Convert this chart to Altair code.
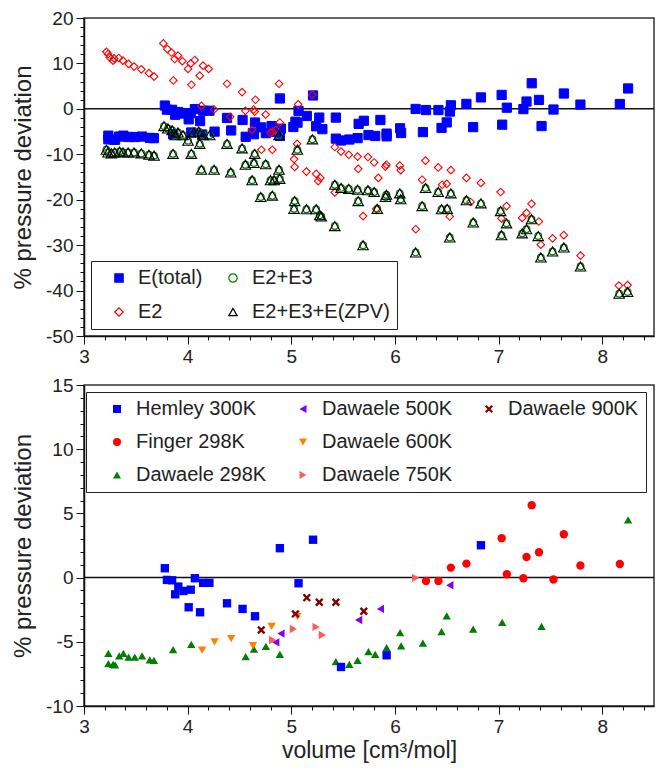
import altair as alt
import pandas as pd

FONT = "Liberation Sans"

# ---------------- experimental data (bottom panel): volume [cm3/mol], % pressure deviation
hemley_v = [3.78, 3.80, 3.85, 3.88, 3.91, 3.96, 4.01, 4.03, 4.07, 4.12, 4.15, 4.21, 4.38,
            4.53, 4.65, 4.89, 5.07, 5.21, 5.48, 5.92, 6.83]
hemley_d = [0.73, -0.18, -0.21, -1.30, -0.70, -1.04, -2.31, -0.94, -0.05, -2.70, -0.41, -0.41, -2.00,
            -2.44, -3.01, 2.29, -0.44, 2.95, -6.96, -6.05, 2.52]

finger_v = [6.30, 6.42, 6.54, 6.69, 7.03, 7.08, 7.24, 7.27, 7.32, 7.39, 7.53, 7.63, 7.79, 8.17]
finger_d = [-0.26, -0.26, 0.78, 1.09, 3.07, 0.26, -0.05, 1.61, 5.64, 1.97, -0.15, 3.38, 0.94, 1.06]

d298_v = [3.235, 3.235, 3.28, 3.30, 3.34, 3.38, 3.43, 3.49, 3.56, 3.635, 3.675, 3.86, 4.035,
          4.56, 4.64, 4.755, 4.89, 5.43, 5.56, 5.64, 5.745, 5.81, 5.92, 6.05, 6.06, 6.27,
          6.45, 6.50, 6.755, 7.035, 7.415, 8.25]
d298_d = [-5.9, -6.7, -6.75, -6.8, -6.1, -5.9, -6.2, -6.2, -6.1, -6.4, -6.45, -5.6, -5.2,
          -6.15, -5.58, -5.35, -5.97, -6.55, -6.75, -6.44, -5.77, -5.97, -5.45, -4.28, -5.32, -5.11,
          -4.2, -2.98, -4.02, -3.48, -3.79, 4.49]

d500_v = [4.85, 4.90, 5.65, 5.86, 6.53]
d500_d = [-5.04, -4.36, -3.30, -2.44, -0.60]

d600_v = [4.14, 4.26, 4.42, 4.63, 4.81, 5.06]
d600_d = [-5.64, -5.01, -4.75, -5.30, -3.79, -3.04]

d750_v = [4.82, 5.02, 5.24, 5.30, 6.20]
d750_d = [-4.86, -4.00, -3.84, -4.47, -0.02]

d900_v = [4.71, 5.04, 5.15, 5.27, 5.43, 5.70]
d900_d = [-4.08, -2.83, -1.56, -1.92, -1.92, -2.62]

# ---------------- theory (top panel)
# E(total): the filled squares sit on every experimental point of the lower panel
etot_v = hemley_v + finger_v + d298_v + d500_v + d600_v + d750_v + d900_v
etot_d = hemley_d + finger_d + d298_d + d500_d + d600_d + d750_d + d900_d

e2_v = [3.216, 3.232, 3.248, 3.28, 3.29, 3.335, 3.376, 3.431, 3.483, 3.553, 3.627, 3.676,
        3.766, 3.804, 3.843, 3.875, 3.907, 3.949, 4.004, 4.03, 4.068, 4.117, 4.149, 4.203,
        3.862, 4.036, 4.133, 4.255, 4.38, 4.525, 4.654, 4.557, 4.637, 4.647, 4.41, 4.753,
        4.882, 4.889, 5.066, 5.204, 4.622, 4.712, 4.817, 4.80, 4.82, 4.85, 5.056, 5.027,
        5.033, 5.146, 5.24, 5.28, 5.26, 5.42, 5.48, 5.555, 5.64, 5.646, 5.74, 5.80,
        5.84, 5.42, 5.693, 5.82, 5.918, 5.908, 6.047, 6.056, 6.295, 6.263, 6.418, 6.54,
        6.456, 6.50, 6.69, 6.83, 7.02, 6.201, 6.529, 6.73, 7.077, 7.028, 7.228, 7.27,
        7.318, 7.389, 7.408, 7.521, 7.63, 7.791, 8.161, 8.245]
e2_d = [12.57, 12.07, 11.34, 10.6, 11.1, 11.2, 10.6, 9.9, 9.3, 8.7, 7.85, 7.1,
        14.4, 13.16, 12.4, 10.98, 11.7, 10.5, 8.8, 10.0, 10.75, 7.3, 9.5, 8.8,
        6.25, 5.3, 0.65, -0.15, 5.52, 3.7, 2.0, -0.43, -0.15, -0.6, -1.75, -1.24,
        5.52, -3.0, 1.0, 3.1, -4.65, -9.0, -9.0, -5.25, -5.0, -4.65, -7.7, -11.06,
        -12.8, -13.8, -14.3, -15.2, -15.9, -8.4, -9.4, -10.1, -10.5, -13.2, -10.6, -11.8,
        -15.2, -18.4, -23.6, -22.0, -12.3, -12.7, -12.5, -13.5, -11.4, -15.6, -12.9, -13.5,
        -16.7, -16.5, -15.2, -16.3, -18.3, -26.5, -23.7, -20.5, -21.4, -24.1, -24.0, -22.9,
        -20.9, -24.8, -29.9, -28.5, -27.8, -32.3, -38.9, -38.8]

# E2+E3 and E2+E3+E(ZPV) lie on top of each other at this scale
e23_v = [3.216, 3.232, 3.264, 3.296, 3.344, 3.376, 3.425, 3.483, 3.553, 3.627, 3.676,
         3.772, 3.81, 3.85, 3.88, 3.907, 3.955, 4.004, 4.06, 4.107, 4.117, 4.149, 4.213,
         3.859, 4.036, 4.133, 4.255, 4.38, 4.416, 4.525, 4.557, 4.647, 4.64, 4.622, 4.753,
         4.705, 4.817, 4.80, 4.834, 4.882, 4.889, 4.882, 5.059, 5.033, 5.027, 5.146, 5.24,
         5.275, 5.29, 5.204, 5.42, 5.48, 5.555, 5.64, 5.74, 5.80, 5.646, 5.83, 5.42,
         5.693, 5.918, 5.91, 6.047, 6.056, 6.296, 6.263, 6.418, 6.54, 6.45, 6.504, 6.529,
         6.20, 6.69, 6.83, 6.756, 7.02, 7.028, 7.077, 7.228, 7.27, 7.318, 7.383, 7.408,
         7.521, 7.63, 7.791, 8.164, 8.245]
e23_d = [-9.0, -9.6, -9.8, -9.6, -9.4, -9.6, -9.6, -9.6, -9.8, -10.1, -10.3,
         -3.8, -4.3, -4.7, -5.8, -5.2, -5.8, -7.0, -5.2, -5.0, -7.7, -5.8, -5.8,
         -9.9, -9.9, -13.4, -13.4, -7.7, -14.0, -8.7, -12.3, -9.9, -11.9, -15.7, -12.2,
         -19.4, -19.1, -15.7, -15.7, -13.4, -15.4, -5.8, -9.0, -20.3, -22.0, -22.1, -22.1,
         -23.4, -23.7, -6.7, -16.7, -17.4, -17.6, -17.8, -17.9, -18.3, -20.3, -22.0, -25.8,
         -30.0, -18.9, -19.4, -18.6, -19.9, -17.4, -21.4, -18.3, -18.6, -22.1, -22.0, -28.3,
         -31.6, -20.1, -20.8, -25.0, -22.5, -27.8, -25.2, -27.4, -26.5, -24.3, -28.0, -32.7,
         -31.4, -30.5, -34.7, -40.7, -40.3]

# legend entries: order chosen so that the grid reads like the original
top_order = ["E(total)", "E2", "E2+E3", "E2+E3+E(ZPV)"]
top_shapes = ["square", "diamond", "circle", "triangle-up"]
top_strokes = ["#0000FF", "#FF0000", "#008000", "#000000"]
top_fills = ["#0000FF", "transparent", "transparent", "transparent"]

X_SHAPE = "M-1,-0.6L-0.6,-1L0,-0.4L0.6,-1L1,-0.6L0.4,0L1,0.6L0.6,1L0,0.4L-0.6,1L-1,0.6L-0.4,0Z"
bot_order = ["Hemley 300K", "Finger 298K", "Dawaele 298K", "Dawaele 500K", "Dawaele 600K",
             "Dawaele 750K", "Dawaele 900K", " "]
bot_colors = ["#0000FF", "#FF0000", "#008000", "#8000FF", "#FF8000", "#FF5A5A", "#800000", "transparent"]
bot_shapes = ["square", "circle", "triangle-up", "triangle-left", "triangle-down", "triangle-right",
              X_SHAPE, "circle"]

# ---------------- tables
top_rows = []
for name, vs, ds in [("E(total)", etot_v, etot_d), ("E2", e2_v, e2_d),
                     ("E2+E3", e23_v, e23_d), ("E2+E3+E(ZPV)", e23_v, e23_d)]:
    top_rows += [{"v": v, "d": d, "series": name} for v, d in zip(vs, ds)]
top_df = pd.DataFrame(top_rows)

bot_rows = []
for name, vs, ds in [("Dawaele 298K", d298_v, d298_d), ("Dawaele 600K", d600_v, d600_d),
                     ("Dawaele 500K", d500_v, d500_d), ("Dawaele 750K", d750_v, d750_d),
                     ("Dawaele 900K", d900_v, d900_d), ("Finger 298K", finger_v, finger_d),
                     ("Hemley 300K", hemley_v, hemley_d)]:
    bot_rows += [{"v": v, "d": d, "series": name} for v, d in zip(vs, ds)]
bot_df = pd.DataFrame(bot_rows)

zero_df = pd.DataFrame({"level": [0.0]})

# ---------------- axes (minor ticks drawn as the short dashed part of each tick)
x_ticks = [round(3 + 0.2 * i, 1) for i in range(28)]
X_MAJOR = "abs(datum.value - round(datum.value)) < 0.001"


def x_axis(title):
    return alt.Axis(
        title=title, values=x_ticks,
        labelExpr=X_MAJOR + " ? '' + round(datum.value) : ''",
        tickSize=8,
        tickDash={"condition": {"test": X_MAJOR, "value": [10, 0]}, "value": [4, 30]},
        labelFlush=False, labelOverlap=False, labelPadding=3, titlePadding=3, grid=False,
    )


def y_axis(values, step):
    test = "datum.value % " + str(step) + " === 0"
    return alt.Axis(
        title="% pressure deviation", values=values,
        labelExpr=test + " ? '' + datum.value : ''",
        tickSize=8,
        tickDash={"condition": {"test": test, "value": [10, 0]}, "value": [4, 30]},
        labelFlush=False, labelOverlap=False, labelPadding=3, titlePadding=10, grid=False,
    )


x_scale = alt.Scale(domain=[3, 8.5], nice=False, zero=False)
y_top = alt.Scale(domain=[-50, 20], nice=False, zero=False)
y_bot = alt.Scale(domain=[-10, 15], nice=False, zero=False)
y_top_axis = y_axis(list(range(-50, 21, 2)), 10)
y_bot_axis = y_axis(list(range(-10, 16)), 5)

# ---------------- top panel
top_legend = alt.Legend(
    title=None, orient="none", legendX=7, legendY=243, columns=2, direction="vertical",
    strokeColor="#222", fillColor="white", padding=7, symbolOffset=11,
    labelFont=FONT, labelFontSize=20, labelColor="#222", labelOffset=9, labelLimit=300,
    symbolSize=70, symbolStrokeWidth=1.2, rowPadding=14, columnPadding=9,
)


def top_layer(name, size, sw):
    return alt.Chart(top_df).transform_filter(alt.datum.series == name).mark_point(
        size=size, opacity=1, strokeWidth=sw
    ).encode(
        x=alt.X("v:Q", scale=x_scale, axis=x_axis(None)),
        y=alt.Y("d:Q", scale=y_top, axis=y_top_axis),
        shape=alt.Shape("series:N", scale=alt.Scale(domain=top_order, range=top_shapes), legend=top_legend),
        stroke=alt.Stroke("series:N", scale=alt.Scale(domain=top_order, range=top_strokes), legend=top_legend),
        fill=alt.Fill("series:N", scale=alt.Scale(domain=top_order, range=top_fills), legend=top_legend),
    )


zero_top = alt.Chart(zero_df).mark_rule(color="#111", strokeWidth=1.5).encode(
    y=alt.Y("level:Q", scale=y_top, axis=y_top_axis)
)

top = alt.layer(
    zero_top,
    top_layer("E(total)", 85, 1),
    top_layer("E2", 58, 1.1),
    top_layer("E2+E3", 45, 1.2),
    top_layer("E2+E3+E(ZPV)", 110, 1.1),
).properties(width=570, height=318)

# ---------------- bottom panel
bot_legend = alt.Legend(
    title=None, orient="none", legendX=2, legendY=7, columns=3, direction="vertical",
    strokeColor="#222", fillColor="white", padding=7, symbolOffset=14,
    labelFont=FONT, labelFontSize=20, labelColor="#222", labelOffset=9, labelLimit=300,
    symbolSize=65, rowPadding=13, columnPadding=12,
)

zero_bot = alt.Chart(zero_df).mark_rule(color="#111", strokeWidth=1.5).encode(
    y=alt.Y("level:Q", scale=y_bot, axis=y_bot_axis)
)

bot_points = alt.Chart(bot_df).mark_point(filled=True, size=70, opacity=1).encode(
    x=alt.X("v:Q", scale=x_scale, axis=x_axis("volume [cm³/mol]")),
    y=alt.Y("d:Q", scale=y_bot, axis=y_bot_axis),
    color=alt.Color("series:N", scale=alt.Scale(domain=bot_order, range=bot_colors), legend=bot_legend),
    shape=alt.Shape("series:N", scale=alt.Scale(domain=bot_order, range=bot_shapes), legend=bot_legend),
)

bottom = alt.layer(zero_bot, bot_points).properties(width=570, height=321)

chart = alt.vconcat(top, bottom, spacing=8).resolve_scale(
    shape="independent", color="independent", stroke="independent", fill="independent"
).resolve_legend(shape="independent", color="independent", stroke="independent", fill="independent"
).properties(
    padding={"left": 2, "top": 0, "right": 0, "bottom": 3}, background="white"
).configure_view(
    stroke="#333", strokeWidth=1.5
).configure_axis(
    labelFont=FONT, labelFontSize=19, labelColor="#222",
    titleFont=FONT, titleFontSize=24, titleFontWeight="normal", titleColor="#222",
    domainColor="#111", domainWidth=1.5, tickColor="#111", tickWidth=1,
).configure_axisX(titleFontSize=23)

chart.save("out.html", embed_options={"renderer": "svg", "actions": False})
